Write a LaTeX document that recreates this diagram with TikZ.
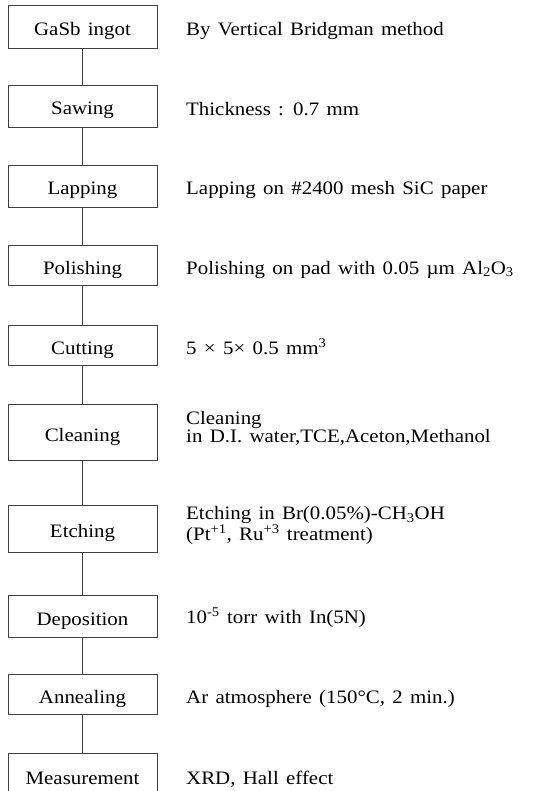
\documentclass[tikz,border=0pt]{standalone}
\usepackage{fontspec}
\setmainfont[FakeStretch=1.1,WordSpace=1.4]{Liberation Serif}
\tikzset{stepbox/.style={draw=black!75,line width=0.8pt,minimum width=149pt,inner sep=0pt,text height=18pt,text depth=0pt,font=\fontsize{19}{18}\selectfont},
note/.style={anchor=base west,align=left,inner sep=0pt,font=\fontsize{19}{18}\selectfont}}
\begin{document}
\begin{tikzpicture}[x=1pt,y=-1pt]
\clip (0,0) rectangle (539,791);
\node [stepbox,minimum height=43pt] (ingot) at (82.5,26.5) {GaSb ingot};
\node [stepbox,minimum height=42pt] (sawing) at (82.5,106) {Sawing};
\node [stepbox,minimum height=42pt] (lapping) at (82.5,186) {Lapping};
\node [stepbox,minimum height=40pt] (polishing) at (82.5,265) {Polishing};
\node [stepbox,minimum height=40pt] (cutting) at (82.5,345) {Cutting};
\node [stepbox,minimum height=56pt] (cleaning) at (82.5,432) {Cleaning};
\node [stepbox,minimum height=47pt] (etching) at (82.5,528.5) {Etching};
\node [stepbox,minimum height=42pt] (deposition) at (82.5,616) {Deposition};
\node [stepbox,minimum height=40pt] (annealing) at (82.5,694) {Annealing};
\node [stepbox,minimum height=44pt] (measurement) at (82.5,775) {Measurement};
\draw [black!75,line width=0.8pt] (ingot) -- (sawing);
\draw [black!75,line width=0.8pt] (sawing) -- (lapping);
\draw [black!75,line width=0.8pt] (lapping) -- (polishing);
\draw [black!75,line width=0.8pt] (polishing) -- (cutting);
\draw [black!75,line width=0.8pt] (cutting) -- (cleaning);
\draw [black!75,line width=0.8pt] (cleaning) -- (etching);
\draw [black!75,line width=0.8pt] (etching) -- (deposition);
\draw [black!75,line width=0.8pt] (deposition) -- (annealing);
\draw [black!75,line width=0.8pt] (annealing) -- (measurement);
\node [note] (ingotnote) at (186,36) {By Vertical Bridgman method};
\node [note] (sawingnote) at (186,116) {Thickness : 0.7 mm};
\node [note] (lappingnote) at (186,195) {Lapping on \#2400 mesh SiC paper};
\node [note] (polishingnote) at (186,274) {Polishing on pad with 0.05 µm Al\textsubscript{2}O\textsubscript{3}};
\node [note] (cuttingnote) at (186,354) {5 × 5× 0.5 mm\textsuperscript{3}};
\node [note] (cleaningnote) at (186,442) {Cleaning\\in D.I. water,TCE,Aceton,Methanol};
\node [note] (etchingnote) at (186,540) {Etching in Br(0.05\%)-CH\textsubscript{3}OH\\(Pt\textsuperscript{+1}, Ru\textsuperscript{+3} treatment)};
\node [note] (depositionnote) at (186,623) {10\textsuperscript{-5} torr with In(5N)};
\node [note] (annealingnote) at (186,703) {Ar atmosphere (150°C, 2 min.)};
\node [note] (measurementnote) at (186,784) {XRD, Hall effect};
\end{tikzpicture}
\end{document}
